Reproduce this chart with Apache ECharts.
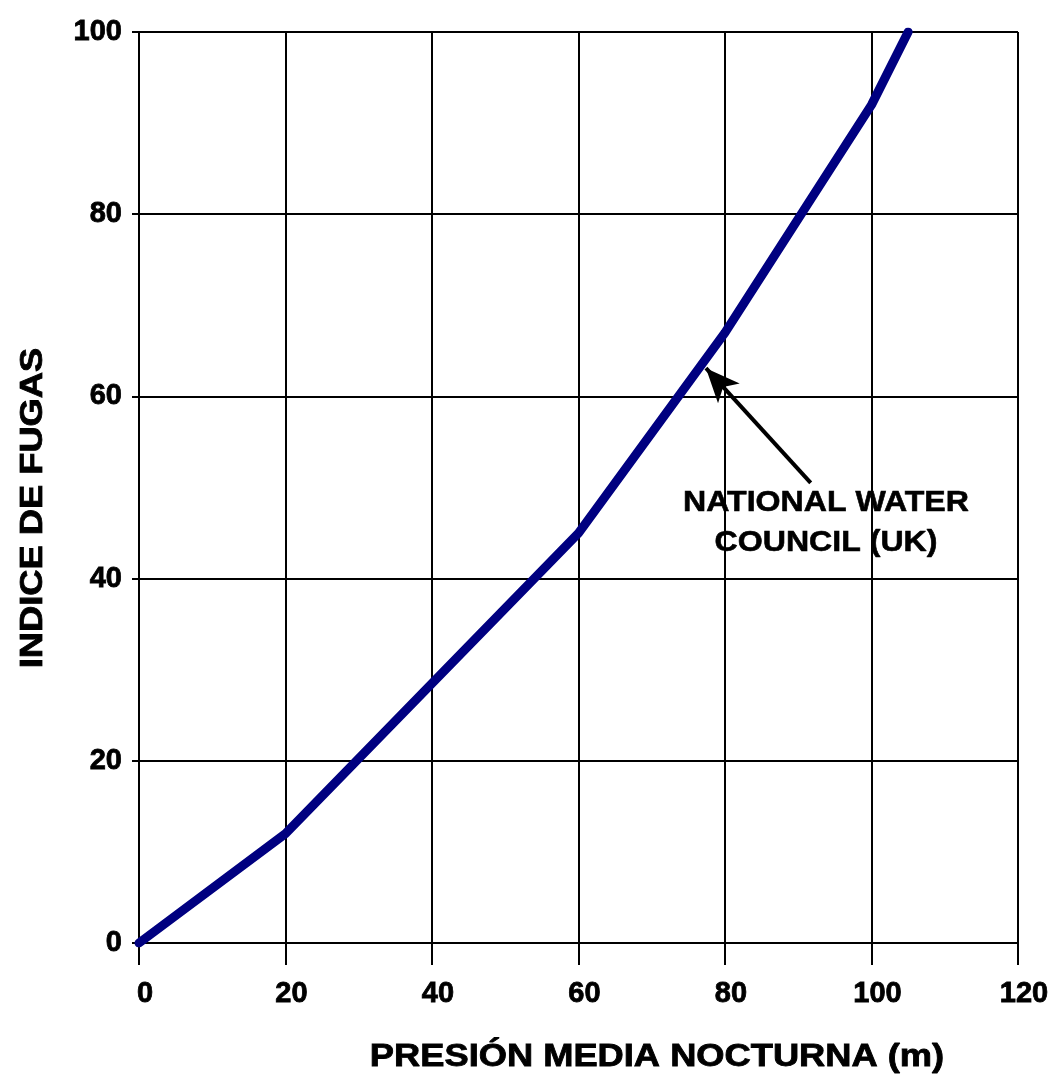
<!DOCTYPE html>
<html>
<head>
<meta charset="utf-8">
<script src="https://cdn.jsdelivr.net/npm/echarts@6/dist/echarts.min.js"></script>
<style>
html, body { margin: 0; padding: 0; background: #fff; }
#container { width: 1055px; height: 1077px; }
</style>
</head>
<body>
<div id="container"></div>
<script>
// presión media nocturna (m) vs índice de fugas
var presion = [0, 20, 60, 80, 100, 105];
var indice = [0, 12, 45, 67, 92, 100];
// flecha de la anotación: [cola, punta]
var flecha = [[91.7, 50.5], [77.4, 63.1]];
var etiqueta = 'NATIONAL WATER\nCOUNCIL (UK)';
var tituloX = 'PRESIÓN MEDIA NOCTURNA (m)';
var tituloY = 'INDICE DE FUGAS';

var fuente = '"Liberation Sans", Arial, sans-serif';
var dom = document.getElementById('container');
var myChart = echarts.init(dom);

var puntos = [];
for (var i = 0; i < presion.length; i++) {
    puntos.push([presion[i], indice[i]]);
}

option = {
    animation: false,
    backgroundColor: '#fff',
    grid: { left: 139, right: 37, top: 32, bottom: 134 },
    xAxis: {
        type: 'value',
        min: 0, max: 120, interval: 20,
        axisLine: { show: true, lineStyle: { color: '#000', width: 2 } },
        axisTick: { show: true, length: 22, lineStyle: { color: '#000', width: 2 } },
        axisLabel: {
            margin: 36, fontFamily: fuente, fontWeight: 'bold', fontSize: 29, color: '#000',
            textBorderColor: '#000', textBorderWidth: 0.8,
            padding: [0, 0, 0, 12]
        },
        splitLine: { show: true, lineStyle: { color: '#000', width: 2 } }
    },
    yAxis: {
        type: 'value',
        min: 0, max: 100, interval: 20,
        axisLine: { show: true, lineStyle: { color: '#000', width: 2 } },
        axisTick: { show: true, length: 7, lineStyle: { color: '#000', width: 2 } },
        axisLabel: {
            margin: 17, fontFamily: fuente, fontWeight: 'bold', fontSize: 29, color: '#000',
            textBorderColor: '#000', textBorderWidth: 0.8
        },
        splitLine: { show: true, lineStyle: { color: '#000', width: 2 } }
    },
    graphic: [
        {
            // título eje X (texto algo ensanchado como en el original)
            type: 'text',
            x: 657, y: 1057,
            scaleX: 1.17,
            style: {
                text: tituloX,
                font: 'bold 31px ' + fuente,
                fill: '#000',
                stroke: '#000', lineWidth: 0.8,
                textAlign: 'center',
                textVerticalAlign: 'middle'
            }
        },
        {
            // título eje Y
            type: 'text',
            x: 33, y: 508,
            rotation: Math.PI / 2,
            scaleX: 1.17,
            style: {
                text: tituloY,
                font: 'bold 31px ' + fuente,
                fill: '#000',
                stroke: '#000', lineWidth: 0.8,
                textAlign: 'center',
                textVerticalAlign: 'middle'
            }
        },
        {
            type: 'text',
            x: 826, y: 523,
            scaleX: 1.07,
            style: {
                text: etiqueta,
                font: 'bold 30px ' + fuente,
                fill: '#000',
                stroke: '#000', lineWidth: 0.6,
                textAlign: 'center',
                textVerticalAlign: 'middle',
                lineHeight: 40
            }
        }
    ],
    series: [{
        type: 'line',
        data: puntos,
        showSymbol: false,
        lineStyle: { color: '#000080', width: 9, cap: 'round', join: 'round' },
        markLine: {
            silent: true,
            symbol: ['none', 'arrow'],
            symbolSize: [22, 34],
            lineStyle: { color: '#000', width: 4, type: 'solid' },
            label: { show: false },
            data: [[{ coord: flecha[0] }, { coord: flecha[1] }]]
        }
    }]
};

if (option && typeof option === "object") {
    myChart.setOption(option, true);
}
</script>
</body>
</html>
